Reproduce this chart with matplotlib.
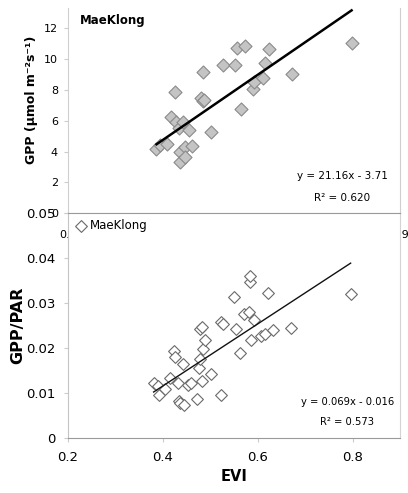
import numpy as np
import matplotlib
matplotlib.use("Agg")
import matplotlib.pyplot as plt

# --- top panel: GPP vs EVI ---
evi_gpp = [0.387, 0.395, 0.410, 0.417, 0.427, 0.428, 0.434, 0.443, 0.437, 0.448,
           0.437, 0.448, 0.456, 0.462, 0.481, 0.484, 0.486, 0.488, 0.502, 0.527,
           0.553, 0.557, 0.574, 0.565, 0.590, 0.593, 0.611, 0.615, 0.625, 0.672,
           0.798]
gpp = [4.15, 4.45, 4.50, 6.27, 7.90, 5.95, 5.52, 5.95, 4.00, 4.33,
       3.31, 3.64, 5.41, 4.39, 7.47, 9.19, 7.31, 7.36, 5.26, 9.63,
       9.63, 10.71, 10.86, 6.75, 8.05, 8.55, 8.77, 9.74, 10.65, 9.03,
       11.08]
gpp_fit = (21.16, -3.71)

# --- bottom panel: GPP/PAR vs EVI ---
evi_lue = [0.381, 0.391, 0.393, 0.405, 0.415, 0.423, 0.427, 0.432, 0.434, 0.437,
           0.443, 0.444, 0.453, 0.460, 0.472, 0.476, 0.479, 0.479, 0.482, 0.483,
           0.486, 0.490, 0.501, 0.522, 0.523, 0.527, 0.550, 0.555, 0.564, 0.571,
           0.581, 0.583, 0.585, 0.587, 0.592, 0.608, 0.615, 0.622, 0.633, 0.670,
           0.796]
lue = [0.0124, 0.0116, 0.0097, 0.0109, 0.0135, 0.0195, 0.0180, 0.0124, 0.0082, 0.0079,
       0.0165, 0.0075, 0.0118, 0.0124, 0.0088, 0.0157, 0.0176, 0.0243, 0.0247, 0.0127,
       0.0198, 0.0219, 0.0144, 0.0097, 0.0258, 0.0253, 0.0315, 0.0243, 0.0189, 0.0277,
       0.0281, 0.0348, 0.0361, 0.0219, 0.0262, 0.0228, 0.0232, 0.0322, 0.0240, 0.0245,
       0.0321]
lue_fit = (0.069, -0.016)

site = "MaeKlong"

W, H = 408, 493
fig = plt.figure(figsize=(W / 100, H / 100), dpi=100)
plt.rcParams['font.family'] = ['DejaVu Sans']

def px(l, t, r, b):
    return [l / W, 1 - b / H, (r - l) / W, (b - t) / H]

# ---------- top panel ----------
ax1 = fig.add_axes(px(67.7, 8, 400, 213.3))
ax1.scatter(evi_gpp, gpp, marker='D', s=44, facecolor='#c4c4c4',
            edgecolor='#8a8a8a', linewidth=0.8, zorder=3)
xf = np.array([min(evi_gpp), max(evi_gpp)])
ax1.plot(xf, gpp_fit[0] * xf + gpp_fit[1], color='black', linewidth=1.8, zorder=4)
ax1.set_xlim(0.2, 0.9)
ax1.set_ylim(0, 13.33)
ax1.set_yticks(np.arange(0, 13, 2))
# only the end labels peek out from under the lower panel
ax1.set_xticks([0.2, 0.9])
ax1.set_xticklabels(["0.2", "0.9"])
ax1.tick_params(axis='y', labelsize=8, length=3, color='#cccccc', pad=4)
ax1.tick_params(axis='x', labelsize=8, length=0, pad=12)
ax1.spines['top'].set_visible(False)
for s in ('left', 'right', 'bottom'):
    ax1.spines[s].set_color('#cfcfcf')
ax1.set_ylabel("GPP (µmol m⁻²s⁻¹)", fontsize=9, fontweight='bold')
ax1.yaxis.set_label_coords(-0.089, 0.552)
ax1.text(0.037, 0.9415, site, transform=ax1.transAxes, fontsize=8.5,
         fontweight='bold', va='center', ha='left')
ax1.text(0.8255, 0.1817, "y = 21.16x - 3.71", transform=ax1.transAxes,
         fontsize=7.5, ha='center', va='center')
ax1.text(0.8255, 0.0745, "R² = 0.620", transform=ax1.transAxes,
         fontsize=7.5, ha='center', va='center')

# ---------- bottom panel ----------
ax2 = fig.add_axes(px(67.7, 213.3, 400, 438.3), zorder=2)
ax2.set_facecolor('white')
ax2.scatter(evi_lue, lue, marker='D', s=36, facecolor='white',
            edgecolor='#6a6a6a', linewidth=0.8, zorder=3, label=site)
xf = np.array([min(evi_lue), max(evi_lue)])
ax2.plot(xf, lue_fit[0] * xf + lue_fit[1], color='#111111', linewidth=1.0, zorder=4)
ax2.set_xlim(0.2, 0.9)
ax2.set_ylim(0, 0.05)
ax2.set_xticks([0.2, 0.4, 0.6, 0.8])
ax2.set_xticklabels(["0.2", "0.4", "0.6", "0.8"])
ax2.set_yticks([0, 0.01, 0.02, 0.03, 0.04, 0.05])
ax2.set_yticklabels(["0", "0.01", "0.02", "0.03", "0.04", "0.05"])
ax2.tick_params(labelsize=9.5, length=3, color='#cccccc')
ax2.tick_params(axis='y', pad=6)
ax2.tick_params(axis='x', pad=6)
ax2.spines['top'].set_color('#9a9a9a')
ax2.spines['bottom'].set_color('#9a9a9a')
ax2.spines['left'].set_color('#c4c4c4')
ax2.spines['right'].set_color('#d4d4d4')
ax2.set_ylabel("GPP/PAR", fontsize=11.5, fontweight='bold')
ax2.yaxis.set_label_coords(-0.1285, 0.5036)
ax2.set_xlabel("EVI", fontsize=10.5, fontweight='bold')
ax2.text(0.842, 0.161, "y = 0.069x - 0.016", transform=ax2.transAxes,
         fontsize=7.2, ha='center', va='center')
ax2.text(0.842, 0.0738, "R² = 0.573", transform=ax2.transAxes,
         fontsize=7.2, ha='center', va='center')
ax2.legend(loc='upper left', bbox_to_anchor=(0.027, 0.975), frameon=False,
           fontsize=8.5, handlelength=0.8, handletextpad=0.35, borderpad=0,
           borderaxespad=0)

fig.savefig("out.png", dpi=100)
